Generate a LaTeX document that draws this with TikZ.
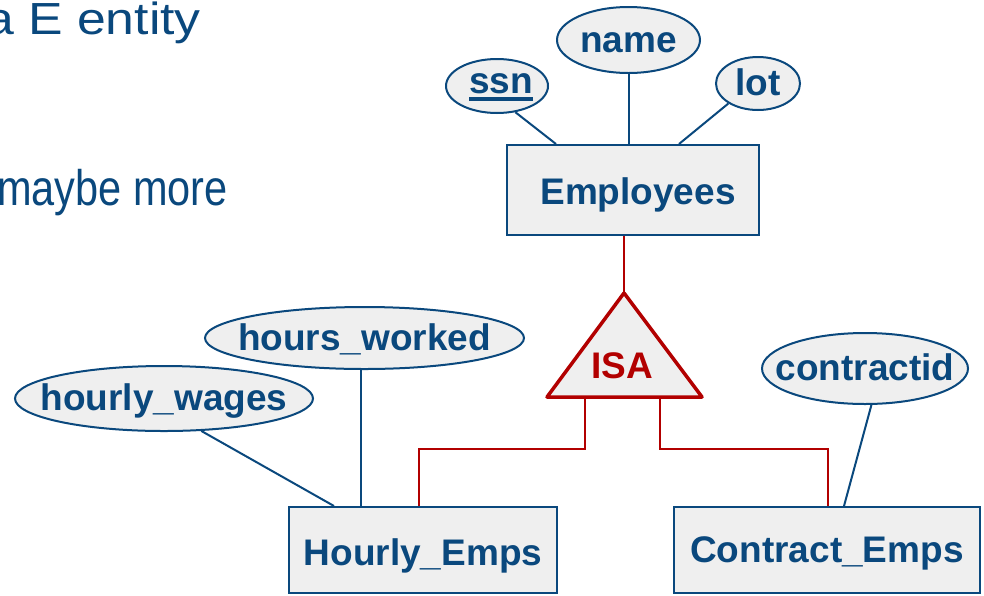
\documentclass[tikz,border=0pt]{standalone}
\usepackage{fontspec}
\setmainfont{Liberation Sans}
\newfontfamily\wideslide[FakeStretch=1.15]{Liberation Sans}
\newfontfamily\narrowslide[FakeStretch=0.83]{Liberation Sans}
\usetikzlibrary{shapes.geometric,calc}
\definecolor{erblue}{RGB}{10,72,125}
\definecolor{isared}{RGB}{178,0,0}
\definecolor{erfill}{RGB}{239,239,239}
\newcommand\erfont{\bfseries\fontsize{37}{40}\selectfont}
% attribute label: zero width, so the ellipse keeps its own size
\newcommand\attrlabel[1]{\makebox[0pt]{#1}}
% key attribute: text with a thick underline that does not change the box
\newcommand\keyattr[1]{\setbox0=\hbox{#1}\rlap{\smash{\rule[-7.5pt]{\wd0}{3.5pt}}}\box0}

\begin{document}
\begin{tikzpicture}[x=1pt,y=-1pt,
  entity/.style={draw=erblue, fill=erfill, line width=2pt, rectangle, inner sep=0,
                 text=erblue, font=\erfont, text height=26pt, text depth=2pt},
  attr/.style={draw=erblue, fill=erfill, line width=2pt, ellipse, inner sep=0,
               text=erblue, font=\erfont, text height=26pt, text depth=2pt},
  link/.style={draw=erblue, line width=2pt},
  isalink/.style={draw=isared, line width=2pt},
  isabox/.style={draw=isared, fill=erfill, line width=3.5pt, line join=round},
]
\path[use as bounding box] (0,0) rectangle (984,595);
\clip (0,0) rectangle (984,595);

% slide text fragments
\node[anchor=base east, inner sep=0, text=erblue,
      font=\wideslide\fontsize{45}{54}\selectfont] (head) at (201,34) {a E entity};
\node[anchor=base west, inner sep=0, text=erblue,
      font=\narrowslide\fontsize{50}{60}\selectfont] (sub) at (-3,205) {maybe more};

% entity sets
\node[entity, minimum width=252pt, minimum height=90pt, text height=30pt] (emp) at (633,190) {\hspace{10pt}Employees};
\node[entity, minimum width=268pt, minimum height=86pt, text height=32pt] (hourly) at (423,550) {Hourly\_Emps};
\node[entity, minimum width=306pt, minimum height=86pt] (contract) at (827,550) {Contract\_Emps};

% attributes
\node[attr, minimum width=143pt, minimum height=66pt] (name) at (628.5,40) {\attrlabel{name}};
\node[attr, minimum width=102pt, minimum height=54pt, text depth=12pt] (ssn) at (497,86) {\attrlabel{\hspace{8pt}\keyattr{ssn}}};
\node[attr, minimum width=84pt, minimum height=53pt] (lot) at (758,83.5) {\attrlabel{lot}};
\node[attr, minimum width=319pt, minimum height=62pt] (hwk) at (364.5,338) {\attrlabel{hours\_worked}};
\node[attr, minimum width=298pt, minimum height=65pt] (hwg) at (164,398.5) {\attrlabel{hourly\_wages}};
\node[attr, minimum width=206pt, minimum height=71pt] (cid) at (865,368.5) {\attrlabel{contractid}};

% attribute links
\draw[link] (ssn.305) -- ($(emp.north west)+(50,0)$);
\draw[link] (name.south) -- (name.south |- emp.north);
\draw[link] (lot.214) -- ($(emp.north west)+(173,0)$);
\draw[link] (hwg.319) -- ($(hourly.north west)+(46,0)$);
\coordinate (hwkfoot) at ($(hourly.north west)+(73,0)$);
\draw[link] (hwk.south -| hwkfoot) -- (hwkfoot);
\draw[link] (cid.280) -- ($(contract.north west)+(171,0)$);

% ISA hierarchy
\coordinate (isaTop) at (624,293);
\coordinate (isaLeft) at (547,397);
\coordinate (isaRight) at (702,397);
\draw[isalink] ($(emp.south west)+(118,0)$) -- (isaTop);
\draw[isalink] ($(isaLeft)!0.245!(isaRight)$) -- ++(0,52) -| ($(hourly.north west)+(131,0)$);
\draw[isalink] ($(isaLeft)!0.729!(isaRight)$) -- ++(0,52) -| ($(contract.north west)+(155,0)$);
\draw[isabox] (isaTop) -- (isaLeft) -- (isaRight) -- cycle;
\node[text=isared, font=\erfont, text height=26pt, text depth=2pt, inner sep=0] (isa) at (622,366) {ISA};
\end{tikzpicture}
\end{document}
